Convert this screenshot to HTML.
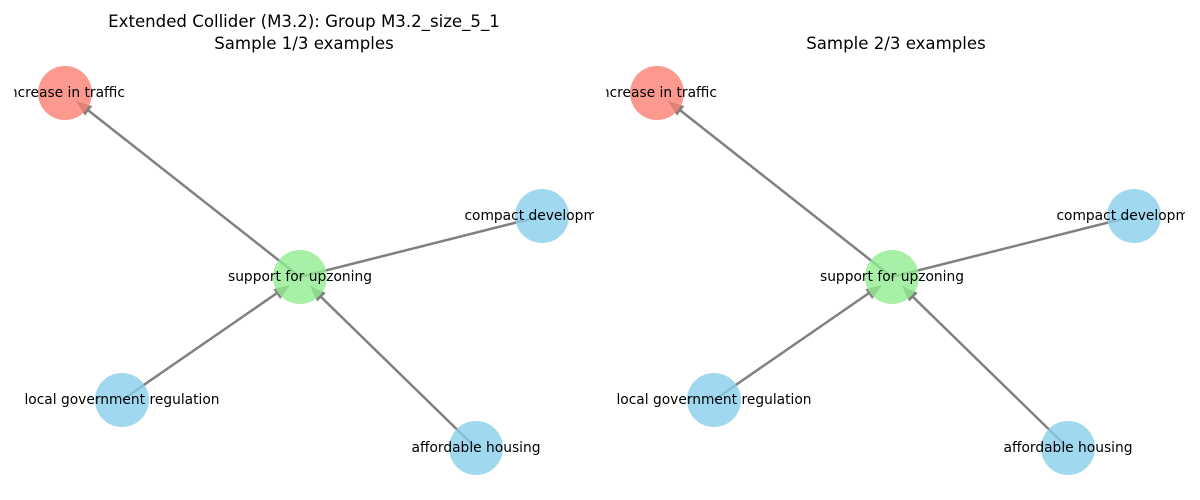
<!DOCTYPE html>
<html><head><meta charset="utf-8"><style>
html,body{margin:0;padding:0;background:#fff;}
svg{display:block;}
text{font-family:"DejaVu Sans","Liberation Sans",sans-serif;}
</style></head><body>
<svg width="1200" height="500" viewBox="0 0 1200 500" xmlns="http://www.w3.org/2000/svg">
<defs>
<clipPath id="c1"><rect x="14" y="0" width="580" height="500"/></clipPath>
<clipPath id="c2"><rect x="606" y="0" width="579" height="500"/></clipPath>
<g id="panel">
  <g stroke="#808080" stroke-width="2.5" fill="none">
    <line x1="300" y1="277" x2="84" y2="107"/>
    <line x1="300" y1="277" x2="542" y2="216"/>
    <line x1="122" y1="400" x2="280" y2="291"/>
    <line x1="476" y1="448" x2="318" y2="294"/>
  </g>
  <g fill="#808080">
    <polygon points="76,101 92.3,106.2 84.9,115.6"/>
    <polygon points="290,285 280.2,299 273.4,289.2"/>
    <polygon points="310,286 325.7,292.9 317.3,301.5"/>
  </g>
  <g opacity="0.8">
    <circle cx="65" cy="93" r="27" fill="#fa8072"/>
    <circle cx="542" cy="216" r="27" fill="#87ceeb"/>
    <circle cx="300" cy="277" r="27" fill="#90ee90"/>
    <circle cx="122" cy="400" r="27" fill="#87ceeb"/>
    <circle cx="476" cy="448" r="27" fill="#87ceeb"/>
  </g>
  <g font-size="13.8" fill="#000" text-anchor="middle" dominant-baseline="central">
    <text x="65" y="93">increase in traffic</text>
    <text x="542" y="216">compact development</text>
    <text x="300" y="277">support for upzoning</text>
    <text x="122" y="400">local government regulation</text>
    <text x="476" y="448">affordable housing</text>
  </g>
</g>
</defs>
<g clip-path="url(#c1)"><use href="#panel"/></g>
<g clip-path="url(#c2)"><use href="#panel" transform="translate(592,0)"/></g>
<g font-size="16.6" fill="#000" text-anchor="middle">
  <text x="304" y="27">Extended Collider (M3.2): Group M3.2_size_5_1</text>
  <text x="304" y="49">Sample 1/3 examples</text>
  <text x="896" y="49">Sample 2/3 examples</text>
</g>
</svg>
</body></html>
